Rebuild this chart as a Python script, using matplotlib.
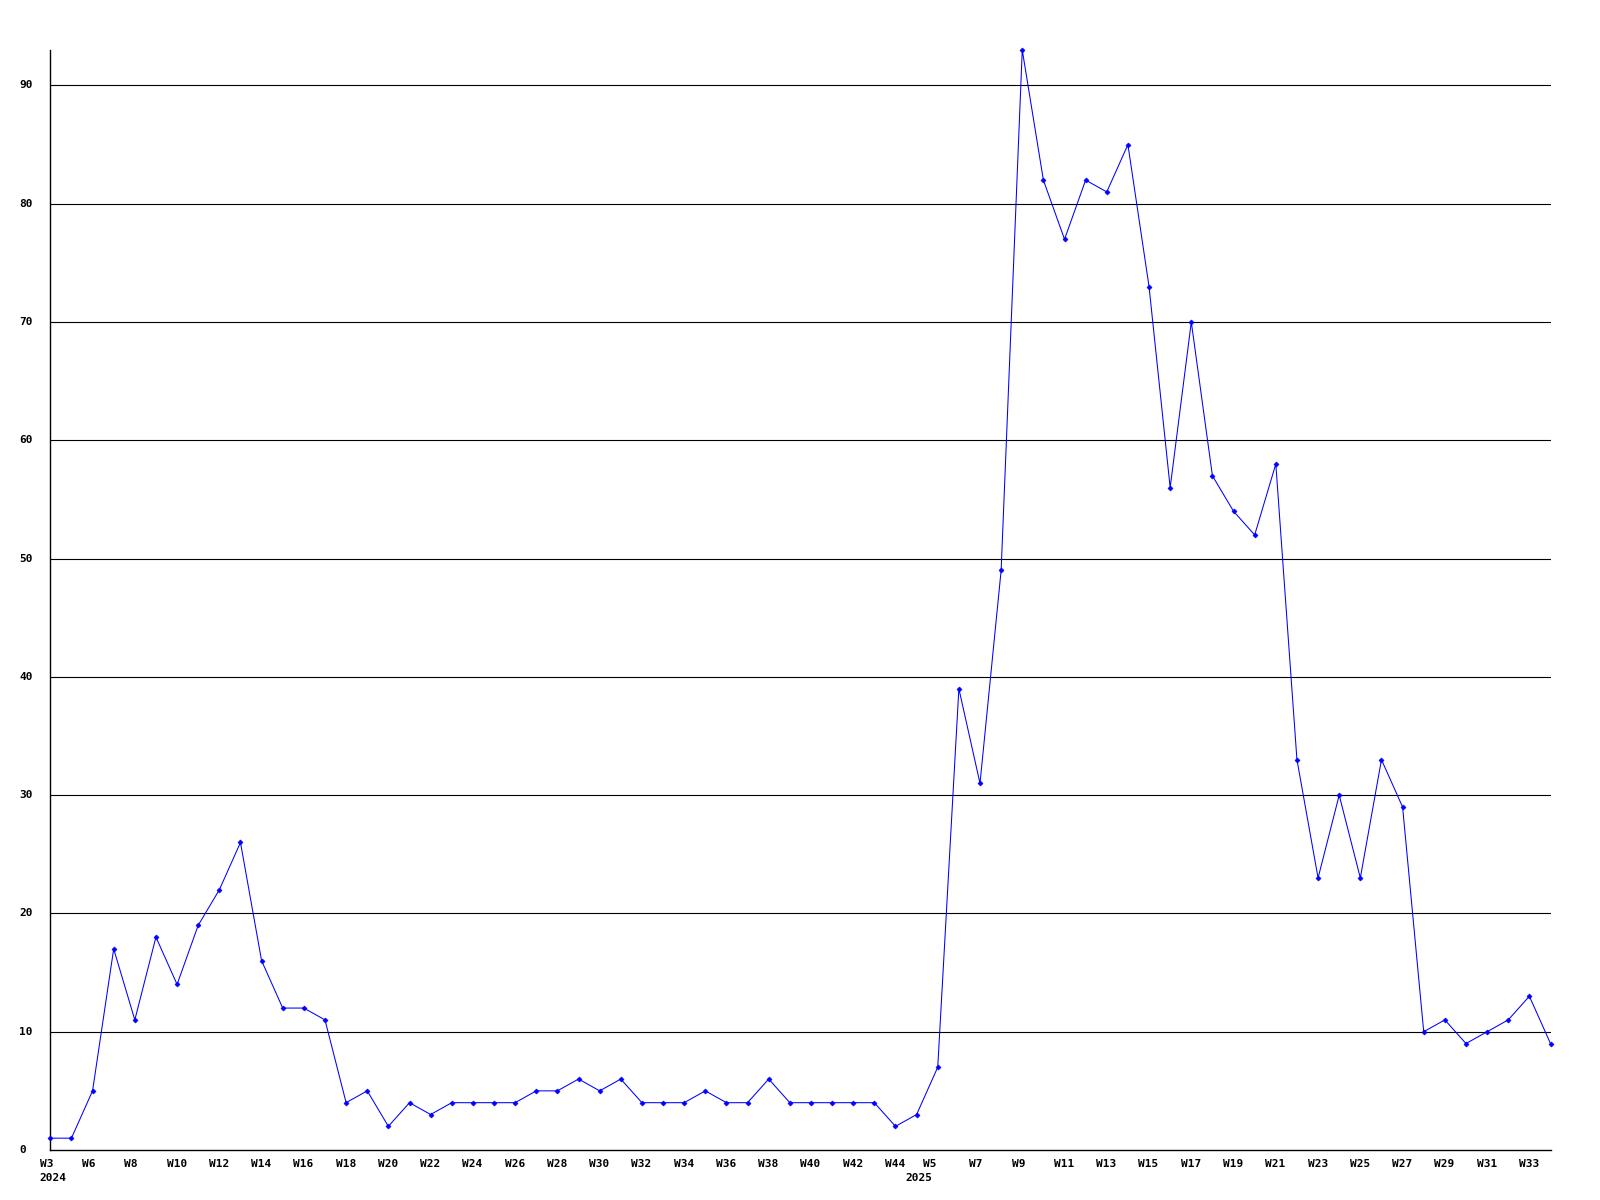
import matplotlib
matplotlib.use("Agg")
import matplotlib.pyplot as plt
from matplotlib.transforms import blended_transform_factory

values = [1, 1, 5, 17, 11, 18, 14, 19, 22, 26,
          16, 12, 12, 11, 4, 5, 2, 4, 3, 4,
          4, 4, 4, 5, 5, 6, 5, 6, 4, 4,
          4, 5, 4, 4, 6, 4, 4, 4, 4, 4,
          2, 3, 7, 39, 31, 49, 93, 82, 77, 82,
          81, 85, 73, 56, 70, 57, 54, 52, 58, 33,
          23, 30, 23, 33, 29, 10, 11, 9, 10, 11,
          13, 9]

week_labels = ["W3", "W6", "W8", "W10", "W12", "W14", "W16", "W18", "W20",
               "W22", "W24", "W26", "W28", "W30", "W32", "W34", "W36", "W38",
               "W40", "W42", "W44", "W5", "W7", "W9", "W11", "W13", "W15",
               "W17", "W19", "W21", "W23", "W25", "W27", "W29", "W31", "W33"]
year_labels = ["2024", "2025"]
year_label_index = [0, 21]

y_ticks = [0, 10, 20, 30, 40, 50, 60, 70, 80, 90]

W, H = 1600, 1200
fig = plt.figure(figsize=(16, 12), dpi=100)
left, right, bottom, top = 50.3, 1550.5, 1150, 50
ax = fig.add_axes([left / W, (H - bottom) / H, (right - left) / W, (bottom - top) / H])

x = list(range(len(values)))
ax.set_xlim(0, len(values) - 1)
ax.set_ylim(0, max(values))

for t in y_ticks[1:]:
    ax.axhline(t, color="black", linewidth=0.8, zorder=1)

ax.plot(x, values, color="#0000ff", linewidth=0.75, marker="D", markersize=2.6,
        markeredgewidth=0.4, clip_on=False, zorder=3)

for s in ["top", "right"]:
    ax.spines[s].set_visible(False)
for s in ["left", "bottom"]:
    ax.spines[s].set_linewidth(1.0)
    ax.spines[s].set_color("black")
ax.set_xticks([])
ax.set_yticks([])

font = dict(family="DejaVu Sans Mono", fontweight="bold", fontsize=8)

# y tick labels, left aligned at fixed pixel x
ytrans = blended_transform_factory(fig.transFigure, ax.transData)
for t in y_ticks:
    ax.text(19.5 / W, t, str(t), transform=ytrans, ha="left", va="center", **font)

# x labels: left-aligned, every 2 points
xtrans = blended_transform_factory(ax.transData, fig.transFigure)
for k, lab in enumerate(week_labels):
    pos = 2 * k - 0.5
    if lab == "W5":
        pos = 2 * k - 0.7
    ax.text(pos, (H - 1159) / H, lab, transform=xtrans, ha="left", va="top", **font)

for lab, k in zip(year_labels, year_label_index):
    pos = 2 * k - 0.5 if k == 0 else 2 * k - 1.54
    ax.text(pos, (H - 1173) / H, lab, transform=xtrans, ha="left", va="top", **font)

fig.savefig("out.png", dpi=100, facecolor="white")
